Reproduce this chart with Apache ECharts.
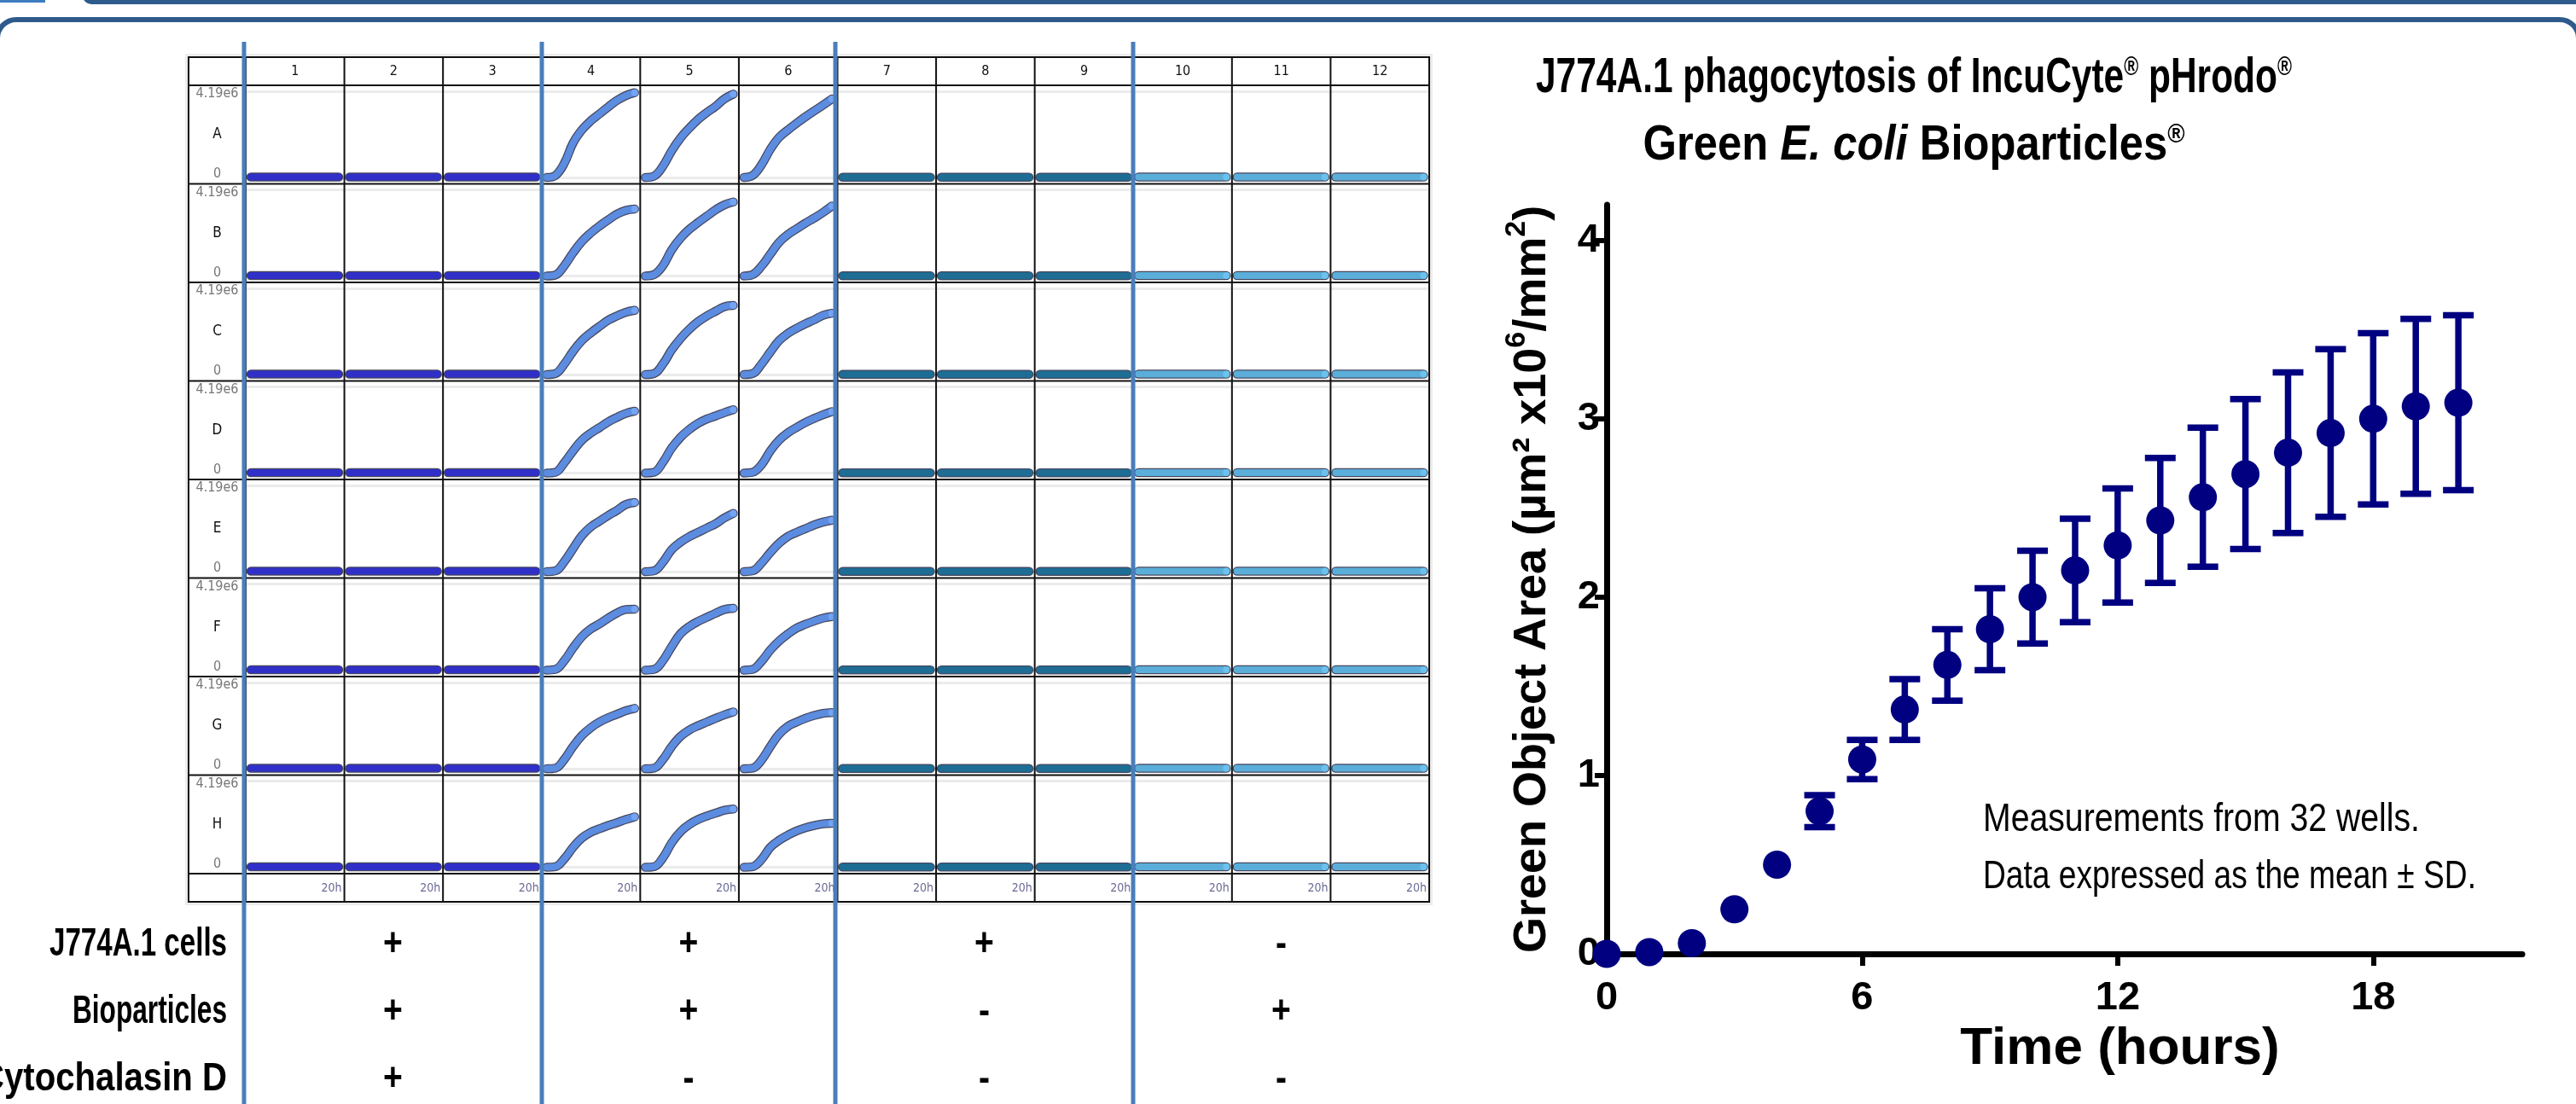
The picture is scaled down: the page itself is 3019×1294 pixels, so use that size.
<!DOCTYPE html>
<html><head><meta charset="utf-8">
<script src="https://cdn.jsdelivr.net/npm/echarts@6/dist/echarts.min.js"></script>
<style>html,body{margin:0;padding:0;background:#fff;overflow:hidden}#c{width:3019px;height:1294px}</style>
</head><body><div id="c"></div>
<script>
// ---------------- DATA ----------------
const rowLabels = ['A','B','C','D','E','F','G','H'];
const colLabels = ['1','2','3','4','5','6','7','8','9','10','11','12'];
const wellAxisLabels = ['4.19e6','0'];
const wellTimeLabel = '20h';
const wellHours = [0,2,4,6,8,10,12,14,16,18,20];
// values in µm² x10^6 / mm² (4.19 = 4.19e6)
const cytoDCurve  = [0.02,0.02,0.02,0.02,0.02,0.02,0.02,0.02,0.02,0.02,0.02];
const noBioCurve  = [0.01,0.01,0.01,0.01,0.01,0.01,0.01,0.01,0.01,0.01,0.01];
const noCellCurve = [0.02,0.02,0.02,0.02,0.02,0.02,0.02,0.02,0.02,0.02,0.02];
const col4Curves = [
  [0,0.10,0.69,1.68,2.31,2.75,3.09,3.43,3.75,3.98,4.12],
  [0,0.05,0.50,1.13,1.68,2.09,2.43,2.73,3.01,3.19,3.26],
  [0,0.05,0.51,1.13,1.65,2.02,2.34,2.64,2.85,3.03,3.12],
  [0,0.04,0.50,1.08,1.60,1.94,2.21,2.49,2.71,2.90,3.01],
  [0,0.04,0.49,1.12,1.75,2.17,2.45,2.73,2.98,3.26,3.36],
  [0,0.04,0.46,1.08,1.63,2.00,2.25,2.53,2.78,2.95,2.97],
  [0,0.03,0.45,1.08,1.61,1.99,2.27,2.48,2.65,2.82,2.93],
  [0,0.03,0.41,0.97,1.42,1.70,1.87,2.03,2.17,2.32,2.45]
];
const col5Curves = [
  [0,0.07,0.55,1.30,1.92,2.40,2.82,3.16,3.46,3.82,4.05],
  [0,0.07,0.50,1.27,1.84,2.27,2.60,2.91,3.22,3.46,3.60],
  [0,0.05,0.51,1.20,1.75,2.20,2.57,2.85,3.08,3.30,3.36],
  [0,0.04,0.53,1.22,1.74,2.12,2.42,2.63,2.78,2.94,3.08],
  [0,0.04,0.46,1.07,1.43,1.70,1.91,2.12,2.33,2.61,2.83],
  [0,0.04,0.46,1.15,1.77,2.12,2.37,2.57,2.77,2.95,3.01],
  [0,0.03,0.45,1.08,1.57,1.88,2.09,2.27,2.45,2.62,2.76],
  [0,0.03,0.46,1.19,1.73,2.08,2.32,2.49,2.63,2.77,2.83]
];
const col6Curves = [
  [0,0.10,0.62,1.37,1.95,2.31,2.64,2.95,3.24,3.52,3.82],
  [0,0.07,0.48,1.06,1.64,2.02,2.30,2.57,2.82,3.09,3.40],
  [0,0.05,0.51,1.10,1.65,2.00,2.25,2.47,2.66,2.88,2.98],
  [0,0.04,0.41,1.08,1.60,1.96,2.22,2.46,2.66,2.84,2.99],
  [0,0.04,0.42,0.93,1.38,1.71,1.91,2.09,2.27,2.41,2.50],
  [0,0.04,0.43,0.98,1.42,1.76,2.05,2.23,2.39,2.53,2.60],
  [0,0.03,0.42,1.08,1.68,2.06,2.27,2.45,2.59,2.69,2.73],
  [0,0.03,0.38,0.97,1.31,1.56,1.77,1.92,2.03,2.11,2.14]
];
const conditionNames = ['J774A.1 cells','Bioparticles','Cytochalasin D'];
const conditionValues = [
  ['+','+','+','-'],
  ['+','+','-','+'],
  ['+','-','-','-']
];
const meanHours = [0,1,2,3,4,5,6,7,8,9,10,11,12,13,14,15,16,17,18,19,20];
const meanArea  = [0.00,0.01,0.06,0.25,0.50,0.80,1.09,1.37,1.62,1.82,2.00,2.15,2.29,2.43,2.56,2.69,2.81,2.92,3.00,3.07,3.09];
const sdArea    = [0,0,0,0,0,0.09,0.11,0.17,0.20,0.23,0.26,0.29,0.32,0.35,0.39,0.42,0.45,0.47,0.48,0.49,0.49];
const xTicks = [0,6,12,18];
const yTicks = [0,1,2,3,4];
const titleLine1 = ['J774A.1 phagocytosis of IncuCyte','®',' pHrodo','®'];
const titleLine2 = ['Green ','E. coli',' Bioparticles','®'];
const xAxisTitle = 'Time (hours)';
const yAxisTitle = ['Green Object Area (µm² x10','6','/mm','2',')'];
const noteLines = ['Measurements from 32 wells.','Data expressed as the mean ± SD.'];

// ---------------- LAYOUT / STYLE ----------------
const NAVY = '#000080';
const DIV_BLUE = '#4a7ebb';
const BAR_BLUE = '#2e5b8c';
const sans = "'Liberation Sans',Arial,sans-serif";
const plateFont = "'DejaVu Sans Condensed','DejaVu Sans',sans-serif";
const tblL = 221, lblR = 288, tblR = 1675, tblT = 67, hdrB = 100, rowsB = 1024, tblB = 1057;
const colW = (tblR - lblR) / 12, rowH = (rowsB - hdrB) / 8;
const groupColors = ['#3030c8','#5b8ce0','#1d6d95','#5aaed9'];
const groupDividers = [286, 635, 979, 1328];

// text measuring, used to give the sans font Calibri-like proportions
const mctx = document.createElement('canvas').getContext('2d');
function tw(str, size, weight, style) {
  mctx.font = (style || 'normal') + ' ' + (weight || 'normal') + ' ' + size + 'px ' + sans;
  return mctx.measureText(str).width;
}

function wellCurve(r, c) {
  if (c < 3) return cytoDCurve;
  if (c === 3) return col4Curves[r];
  if (c === 4) return col5Curves[r];
  if (c === 5) return col6Curves[r];
  if (c < 9) return noBioCurve;
  return noCellCurve;
}

const grids = [], xAxes = [], yAxes = [], series = [];
let gi = 0;
const pxPerH = 103 / 20;
for (let r = 0; r < 8; r++) {
  for (let c = 0; c < 12; c++) {
    const left = lblR + c * colW, top = hdrB + r * rowH;
    grids.push({left: left, top: top + 7, width: colW, height: 101});
    xAxes.push({type:'value', gridIndex: gi, min: -6 / pxPerH, max: 20 + (colW - 109) / pxPerH,
      show: true, axisLine:{show:false}, axisTick:{show:false}, axisLabel:{show:false}, splitLine:{show:false}});
    yAxes.push({type:'value', gridIndex: gi, min: 0, max: 4.19, interval: 4.19,
      axisLine:{show:false}, axisTick:{show:false}, axisLabel:{show:false},
      splitLine:{show:true, lineStyle:{color:'#ebebeb', width:3}}});
    const d = wellHours.map((h, i) => [h, wellCurve(r, c)[i]]);
    const g = Math.floor(c / 3);
    series.push({type:'line', xAxisIndex: gi, yAxisIndex: gi, data: d, smooth: 0.4, clip: false,
      symbol:'none', silent:true, z: 3,
      lineStyle:{color:'rgba(25,25,55,0.8)', width: 10.5, cap:'round', join:'round'}});
    series.push({type:'line', xAxisIndex: gi, yAxisIndex: gi, data: d, smooth: 0.4, clip: false,
      symbol:'circle', silent:true, z: 4,
      symbolSize: (v, p) => p.dataIndex === d.length - 1 ? 8 : 0,
      itemStyle:{color: g === 1 ? '#74a4f4' : (g === 3 ? '#6cc2ee' : groupColors[g]), borderWidth:0, opacity:1},
      lineStyle:{color: groupColors[g], width: 8, cap:'round', join:'round'}});
    gi++;
  }
}

// main chart grid
const mainGrid = gi;
grids.push({left: 1883, top: 240, right: 63, bottom: 176});
xAxes.push({type:'value', gridIndex: mainGrid, min: 0, max: 21.5,
  name: xAxisTitle, nameLocation:'middle', nameGap: 78,
  nameTextStyle:{fontFamily: sans, fontWeight:'bold', fontSize: 62, color:'#000', padding:[0,0,0,130]},
  axisLine:{show:true, lineStyle:{color:'#000', width:7}},
  axisTick:{show:true, length:14, inside:false, customValues: xTicks, lineStyle:{color:'#000', width:6}},
  axisLabel:{show:true, customValues: xTicks, margin: 29, fontFamily: sans, fontWeight:'bold', fontSize: 47, color:'#000'},
  splitLine:{show:false}});
yAxes.push({type:'value', gridIndex: mainGrid, min: 0, max: 4.2,
  name: '{a|' + yAxisTitle[0] + '}{s|' + yAxisTitle[1] + '}{a|' + yAxisTitle[2] + '}{s|' + yAxisTitle[3] + '}{a|' + yAxisTitle[4] + '}',
  nameLocation:'middle', nameGap: 60, nameRotate: 90,
  nameTextStyle:{fontFamily: sans, fontWeight:'bold', fontSize: 54, color:'#000',
    rich:{a:{fontFamily: sans, fontWeight:'bold', fontSize: 54, color:'#000', lineHeight: 62, verticalAlign:'bottom'},
          s:{fontFamily: sans, fontWeight:'bold', fontSize: 34, color:'#000', lineHeight: 62, verticalAlign:'top'}}},
  axisLine:{show:true, lineStyle:{color:'#000', width:7}},
  axisTick:{show:true, length:14, customValues: yTicks, lineStyle:{color:'#000', width:6}},
  axisLabel:{show:true, customValues: yTicks, margin: 8, fontFamily: sans, fontWeight:'bold', fontSize: 47, color:'#000'},
  splitLine:{show:false}});

series.push({type:'custom', xAxisIndex: mainGrid, yAxisIndex: mainGrid, z: 5, clip: false, silent: true,
  data: meanHours.map((h, i) => [h, meanArea[i] - sdArea[i], meanArea[i] + sdArea[i]]).filter((d, i) => sdArea[i] > 0),
  renderItem: function (params, api) {
    const x = api.value(0), lo = api.value(1), hi = api.value(2);
    const pH = api.coord([x, hi]), pL = api.coord([x, lo]);
    const cap = 18, st = {stroke: NAVY, lineWidth: 7.5};
    return {type:'group', children:[
      {type:'line', shape:{x1:pH[0], y1:pH[1], x2:pL[0], y2:pL[1]}, style: st},
      {type:'line', shape:{x1:pH[0]-cap, y1:pH[1], x2:pH[0]+cap, y2:pH[1]}, style: st},
      {type:'line', shape:{x1:pL[0]-cap, y1:pL[1], x2:pL[0]+cap, y2:pL[1]}, style: st}
    ]};
  }});
series.push({type:'scatter', xAxisIndex: mainGrid, yAxisIndex: mainGrid, z: 6, clip: false, silent: true,
  symbol:'circle', symbolSize: 33, itemStyle:{color: NAVY, opacity: 1},
  data: meanHours.map((h, i) => [h, meanArea[i]])});

// ---------------- GRAPHICS ----------------
const gfx = [];
// slide header bars
gfx.push({type:'rect', shape:{x:97, y:-12, width:2960, height:17, r:[0,0,0,10]}, style:{fill: BAR_BLUE}, z: 50});
gfx.push({type:'rect', shape:{x:0, y:0, width:53, height:3}, style:{fill:'#3d7cc0'}, z: 50});
gfx.push({type:'rect', shape:{x:-3, y:23, width:3025, height:2200, r:22}, style:{fill:'none', stroke: BAR_BLUE, lineWidth:6}, z: 50});
// plate background
gfx.push({type:'rect', shape:{x:tblL-4, y:tblT-4, width:tblR-tblL+8, height:tblB-tblT+8}, style:{fill:'#ececec'}, z:-20});
gfx.push({type:'rect', shape:{x:tblL, y:tblT, width:tblR-tblL, height:tblB-tblT}, style:{fill:'#fff', stroke:'#111', lineWidth:2}, z:-10});
// table lines
const ls = {stroke:'#111', lineWidth:2};
gfx.push({type:'line', shape:{x1:tblL, y1:hdrB, x2:tblR, y2:hdrB}, style:ls, z:8});
for (let r = 1; r <= 8; r++) {
  const y = hdrB + r * rowH;
  gfx.push({type:'line', shape:{x1:tblL, y1:y, x2:tblR, y2:y}, style:ls, z:8});
}
for (let c = 0; c <= 12; c++) {
  const x = lblR + c * colW;
  gfx.push({type:'line', shape:{x1:x, y1:tblT, x2:x, y2:tblB}, style:ls, z:8});
}
// column labels
colLabels.forEach((t, c) => gfx.push({type:'text', z:9, style:{text:t, x: lblR + (c + 0.5) * colW, y:(tblT + hdrB) / 2,
  align:'center', verticalAlign:'middle', fontFamily: plateFont, fontSize:16, fill:'#111'}}));
// row labels + well axis labels + time labels
rowLabels.forEach((t, r) => {
  const top = hdrB + r * rowH, cx = (tblL + lblR) / 2;
  gfx.push({type:'text', z:9, style:{text:t, x:cx, y: top + rowH / 2, align:'center', verticalAlign:'middle', fontFamily: plateFont, fontSize:17, fill:'#111'}});
  gfx.push({type:'text', z:9, style:{text:wellAxisLabels[0], x:cx, y: top + 10, align:'center', verticalAlign:'middle', fontFamily: plateFont, fontSize:16, fill:'#777'}});
  gfx.push({type:'text', z:9, style:{text:wellAxisLabels[1], x:cx, y: top + 104, align:'center', verticalAlign:'middle', fontFamily: plateFont, fontSize:16, fill:'#777'}});
});
colLabels.forEach((t, c) => gfx.push({type:'text', z:9, style:{text: wellTimeLabel, x: lblR + (c + 1) * colW - 3, y: rowsB + 17,
  align:'right', verticalAlign:'middle', fontFamily: plateFont, fontSize:14, fill:'#6b6b95'}}));
// group dividers
groupDividers.forEach(x => gfx.push({type:'line', z:20, shape:{x1:x, y1:49, x2:x, y2:1300}, style:{stroke: DIV_BLUE, lineWidth:5}}));
// condensed text helper
function ctext(str, x, y, align, size, weight, sx, extra) {
  return Object.assign({type:'text', z:9, x:x, y:y, scaleX:sx, scaleY:1,
    style:Object.assign({text:str, x:0, y:0, align:align, verticalAlign:'middle', fontFamily: sans, fontWeight: weight, fontSize:size, fill:'#000'}, extra || {})});
}
// condition table (label widths as in the reference)
const condY = [1107, 1186, 1265];
const condWidth = [208, 181, 290];
const condSize = 46;
const groupCenters = [0,1,2,3].map(i => (groupDividers[i] + (i < 3 ? groupDividers[i + 1] : tblR)) / 2);
conditionNames.forEach((n, i) => {
  gfx.push(ctext(n, 266, condY[i], 'right', condSize, 'bold', condWidth[i] / tw(n, condSize, 'bold')));
  conditionValues[i].forEach((v, j) => gfx.push(ctext(v, groupCenters[j], condY[i], 'center', condSize, 'bold', 0.85)));
});
// note
const noteWidth = [512, 578];
noteLines.forEach((t, i) => gfx.push(ctext(t, 2324, 961 + i * 67, 'left', 46, 'normal', noteWidth[i] / tw(t, 46, 'normal'))));
// chart title (two lines, centred)
const tSize = 57, rSize = 31;
const rich = {
  b: {fontFamily: sans, fontWeight:'bold', fontSize: tSize, fill:'#000'},
  i: {fontFamily: sans, fontWeight:'bold', fontStyle:'italic', fontSize: tSize, fill:'#000'},
  r: {fontFamily: sans, fontWeight:'bold', fontSize: rSize, fill:'#000', verticalAlign:'top', padding:[0,0,20,0]}
};
const w1 = tw(titleLine1[0], tSize, 'bold') + tw(titleLine1[1], rSize, 'bold') * 2 + tw(titleLine1[2], tSize, 'bold');
const w2 = tw(titleLine2[0], tSize, 'bold') + tw(titleLine2[1], tSize, 'bold', 'italic') + tw(titleLine2[2], tSize, 'bold') + tw(titleLine2[3], rSize, 'bold');
gfx.push(ctext('{b|' + titleLine1[0] + '}{r|' + titleLine1[1] + '}{b|' + titleLine1[2] + '}{r|' + titleLine1[3] + '}', 2243, 92, 'center', tSize, 'bold', 886 / w1, {rich: rich}));
gfx.push(ctext('{b|' + titleLine2[0] + '}{i|' + titleLine2[1] + '}{b|' + titleLine2[2] + '}{r|' + titleLine2[3] + '}', 2243, 171, 'center', tSize, 'bold', 635 / w2, {rich: rich}));

const chart = echarts.init(document.getElementById('c'), null, {renderer:'canvas'});
chart.setOption({
  animation: false,
  backgroundColor: '#fff',
  grid: grids, xAxis: xAxes, yAxis: yAxes, series: series,
  graphic: {elements: gfx}
});
</script></body></html>
